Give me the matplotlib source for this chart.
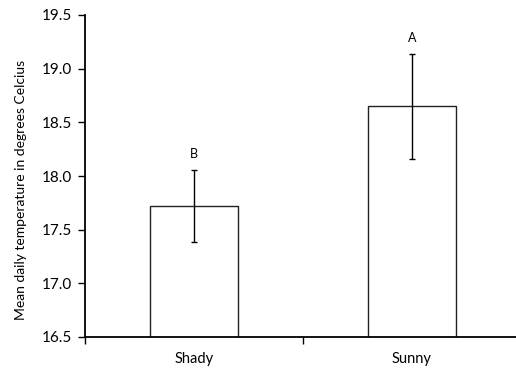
import numpy as np
import matplotlib
matplotlib.use('Agg')
from matplotlib import pyplot as plt

plt.rcParams['font.family'] = ['Lato', 'DejaVu Sans']

# data
sites = ['Shady', 'Sunny']
mean_temp = [17.72, 18.65]
temp_err = [0.335, 0.49]
letters = ['B', 'A']

yticks = [16.5, 17.0, 17.5, 18.0, 18.5, 19.0, 19.5]

fig = plt.figure(figsize=(5.16, 3.68), dpi=100)
# axes runs off the right edge, like the original excel chart
ax = fig.add_axes([85 / 516, (368 - 337) / 368, 436 / 516, 322 / 368])

x = np.arange(len(sites))
ax.bar(x, mean_temp, width=0.40, bottom=0, color='white', edgecolor='#222222',
       linewidth=1.0, zorder=2)
ax.errorbar(x, mean_temp, yerr=temp_err, fmt='none', ecolor='black',
            elinewidth=1.0, capsize=2.5, capthick=1.0, zorder=3)

# significance letters above error bars
for xi, m, e, lab in zip(x, mean_temp, temp_err, letters):
    ax.text(xi, m + e + 0.15, lab, ha='center', va='center', fontsize=9)

ax.set_xlim(-0.5, 1.5)
ax.set_ylim(16.5, 19.5)
ax.set_yticks(yticks)
ax.set_yticklabels(['%.1f' % t for t in yticks], fontsize=11)

# x ticks at the category boundaries, labels in the middle
ax.set_xticks([-0.5, 0.5, 1.5])
ax.set_xticklabels([])
ax.set_xticks(x, minor=True)
ax.set_xticklabels(sites, minor=True, fontsize=10.5)
ax.tick_params(axis='x', which='minor', length=0, pad=11)
ax.tick_params(axis='x', which='major', length=5, direction='out', width=1)
ax.tick_params(axis='y', length=5, direction='out', width=1, pad=4)

ax.set_ylabel('Mean daily temperature in degrees Celcius', fontsize=10)
ax.yaxis.set_label_coords((27 - 85) / 436, (337 - 190) / 322)

for s in ['top', 'right']:
    ax.spines[s].set_visible(False)
ax.spines['left'].set_linewidth(1.3)
ax.spines['bottom'].set_linewidth(1.3)

fig.savefig('out.png', dpi=100)
